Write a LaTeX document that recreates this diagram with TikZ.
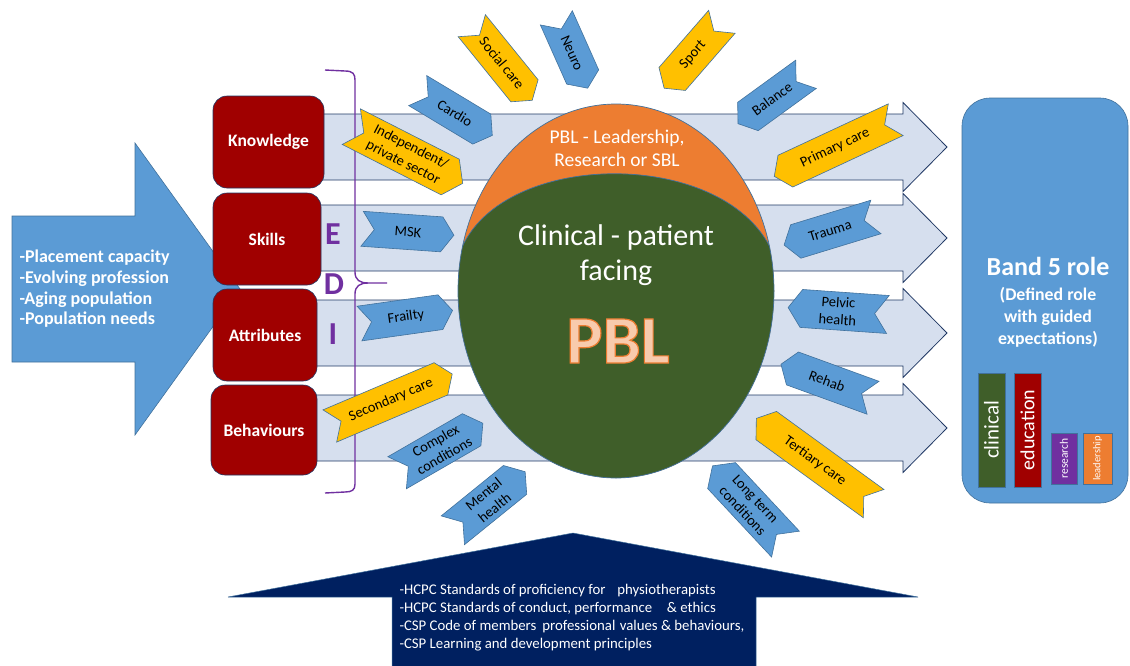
\documentclass[tikz,border=0pt]{standalone}
\usepackage{fontspec}
\setmainfont{Carlito}
\usetikzlibrary{shapes.symbols}
\definecolor{roleblue}{RGB}{91,155,213}
\definecolor{edgeblue}{RGB}{65,113,156}
\definecolor{bandfill}{RGB}{214,223,238}
\definecolor{bandedge}{RGB}{32,56,100}
\definecolor{kasbred}{RGB}{160,0,0}
\definecolor{tagyellow}{RGB}{255,192,0}
\definecolor{pblorange}{RGB}{237,125,49}
\definecolor{pblgreen}{RGB}{63,94,41}
\definecolor{edipurple}{RGB}{112,48,160}
\definecolor{pblsalmon}{RGB}{248,203,173}
\definecolor{hcpcnavy}{RGB}{0,32,96}
\newcommand\fsz[2]{\fontsize{#1}{#2}\selectfont}

\begin{document}
\begin{tikzpicture}[x=1pt,y=-1pt,
    band/.style={fill=bandfill,draw=bandedge,line width=0.8pt},
    kasb/.style={rectangle,rounded corners=14pt,fill=kasbred,draw=bandedge,line width=0.6pt,
      text=white,font=\fsz{17.5}{20}\bfseries},
    tagbase/.style={signal,signal pointer angle=110,draw=edgeblue,line width=0.6pt,
      font=\fsz{14.5}{17.5},text=black,minimum height=35pt,inner xsep=2pt,inner ysep=1pt,align=center},
    blutag/.style={tagbase,fill=roleblue},
    yeltag/.style={tagbase,fill=tagyellow},
    ptright/.style={signal to=east,signal from=west},
    ptleft/.style={signal to=west,signal from=east},
    edi/.style={text=edipurple,font=\fsz{32}{34}\bfseries},
    edibrace/.style={draw=edipurple,line width=1.4pt},
    rolebar/.style={rectangle,draw=edgeblue,line width=0.6pt,text=white,inner sep=0pt,rotate=90}]
  \useasboundingbox (0,0) rectangle (1130,665);

  % Drivers arrow on the left
  \draw[fill=roleblue,draw=edgeblue,line width=0.6pt] (12,216) -- (135,216) -- (135,143) -- (240,289)
    -- (135,435) -- (135,362) -- (12,362) -- cycle;
  \node[anchor=west,align=left,text=white,font=\fsz{18}{20.7}\bfseries] (drivers) at (16,289)
    {-Placement capacity\\-Evolving profession\\-Aging population\\-Population needs};

  % Four bands running to the role
  \foreach \cy in {147,238,333,428}
    \draw[band] (290,\cy-33) -- (903,\cy-33) -- (903,\cy-44.5) -- (947,\cy) -- (903,\cy+44.5)
      -- (903,\cy+33) -- (290,\cy+33) -- cycle;

  % Knowledge, skills, attributes, behaviours
  \node[kasb,minimum width=111pt,minimum height=92pt] (knowledge) at (268.5,142) {Knowledge};
  \node[kasb,minimum width=108pt,minimum height=92pt] (skills) at (267,239) {Skills};
  \node[kasb,minimum width=104pt,minimum height=92pt] (attributes) at (265,335) {Attributes};
  \node[kasb,minimum width=106pt,minimum height=90pt] (behaviours) at (264,430) {Behaviours};

  % EDI brace
  \draw[edibrace] (325,70) -- (345,71) .. controls (353,71) and (355,74) .. (355,80) -- (355,272)
    .. controls (355,280) and (360,283) .. (368,283) -- (387,283);
  \draw[edibrace] (368,283) .. controls (360,283) and (355,286) .. (355,294) -- (355,484)
    .. controls (355,490) and (352,492) .. (345,492) -- (325,493);
  \node[edi] (e) at (333,234) {E};
  \node[edi] (d) at (334,284) {D};
  \node[edi] (i) at (333,334) {I};

  % PBL circle: orange cap over the green clinical part
  \fill[pblorange] (616,291) ellipse [x radius=158pt,y radius=187pt];
  \begin{scope}
    \clip (616,291) ellipse [x radius=158pt,y radius=187pt];
    \fill[pblgreen] (458,258) .. controls (492,145) and (740,145) .. (776,262) -- (790,490)
      -- (440,490) -- cycle;
    \draw[edgeblue,line width=0.7pt] (458,258) .. controls (492,145) and (740,145) .. (776,262);
  \end{scope}
  \draw[edgeblue,line width=0.7pt] (616,291) ellipse [x radius=158pt,y radius=187pt];
  \node[text=white,align=center,font=\fsz{19.5}{23}] (leadership) at (617,148)
    {PBL - Leadership,\\Research or SBL};
  \node[text=white,align=center,font=\fsz{30}{35}] (clinicalpbl) at (616,255)
    {Clinical - patient\\facing};
  \node[text=pblsalmon,font=\fsz{68}{70}\bfseries] (pbl) at (618,341)
    {\special{pdf:literal direct 2 Tr 1.2 w 0.929 0.490 0.192 RG}PBL\special{pdf:literal direct 0 Tr}};

  % Placement areas around the circle
  \node[blutag,ptright,rotate=-31,minimum width=87pt] (cardio) at (455,113) {Cardio};
  \node[yeltag,ptright,rotate=-51,minimum width=96pt] (socialcare) at (502,63) {Social care};
  \node[blutag,ptright,rotate=-66,minimum width=77pt] (neuro) at (572,53) {Neuro};
  \node[yeltag,ptleft,rotate=49,minimum width=88pt] (sport) at (693,55) {Sport};
  \node[blutag,ptleft,rotate=36,minimum width=84pt] (balance) at (772,99) {Balance};
  \node[yeltag,ptleft,rotate=25,minimum width=134pt] (primarycare) at (835,148) {Primary care};
  \node[yeltag,ptright,rotate=-27,minimum width=125pt,minimum height=40pt] (independent) at (407,155)
    {Independent/\\private sector};
  \node[blutag,ptright,rotate=-4,minimum width=92pt] (msk) at (408,232) {MSK};
  \node[blutag,ptleft,rotate=17,minimum width=96pt] (trauma) at (830,231) {Trauma};
  \node[blutag,ptright,rotate=8,minimum width=94pt] (frailty) at (406,317) {Frailty};
  \node[blutag,ptleft,rotate=-4,minimum width=100pt,minimum height=38pt] (pelvic) at (838,311)
    {Pelvic\\health};
  \node[yeltag,ptright,rotate=23,minimum width=133pt] (secondarycare) at (391,400) {Secondary care};
  \node[blutag,ptleft,rotate=-20,minimum width=98pt] (rehab) at (827,381) {Rehab};
  \node[blutag,ptright,rotate=30,minimum width=99pt,minimum height=37pt] (complex) at (440,448)
    {Complex\\conditions};
  \node[yeltag,ptleft,rotate=-36,minimum width=145pt] (tertiarycare) at (815,461) {Tertiary care};
  \node[blutag,ptright,rotate=39,minimum width=93pt,minimum height=37pt] (mental) at (489,501)
    {Mental\\health};
  \node[blutag,ptleft,rotate=-47,minimum width=107pt,minimum height=38pt] (longterm) at (749,505)
    {Long term\\conditions};

  % Band 5 role
  \draw[fill=roleblue,draw=edgeblue,line width=0.6pt,rounded corners=28pt] (962,98) rectangle (1128,503);
  \node[text=white,font=\fsz{26}{28}\bfseries] (band5) at (1048,266) {Band 5 role};
  \node[text=white,align=center,font=\fsz{17.8}{22}\bfseries] (defined) at (1048,317)
    {(Defined role\\with guided\\expectations)};
  \node[rolebar,fill=pblgreen,minimum width=114pt,minimum height=27pt,font=\fsz{21}{22}] (clinical) at (991.5,430) {clinical};
  \node[rolebar,fill=kasbred,minimum width=114pt,minimum height=27pt,font=\fsz{20}{22}] (education) at (1027.5,430) {education};
  \node[rolebar,fill=edipurple,minimum width=51pt,minimum height=26pt,font=\fsz{11.5}{12}] (research) at (1064,458.5) {research};
  \node[rolebar,fill=pblorange,minimum width=51pt,minimum height=29pt,font=\fsz{10.5}{11}] (leadbar) at (1097.5,458.5) {leadership};

  % Standards arrow from below
  \draw[fill=hcpcnavy,draw=edgeblue,line width=0.5pt] (392,670) -- (392,597) -- (228,597) -- (573,533)
    -- (918,597) -- (756,597) -- (756,670) -- cycle;
  \node[anchor=west,align=left,text=white,font=\fsz{14.8}{18}] (standards) at (396,618)
    {-HCPC Standards of proficiency for\hspace{0.8em}physiotherapists\\
     -HCPC Standards of conduct, performance\hspace{1em}\& ethics\\
     -CSP Code of members\hspace{0.4em}professional\hspace{0.3em}values \& behaviours,\\
     -CSP Learning and development principles};
\end{tikzpicture}
\end{document}
